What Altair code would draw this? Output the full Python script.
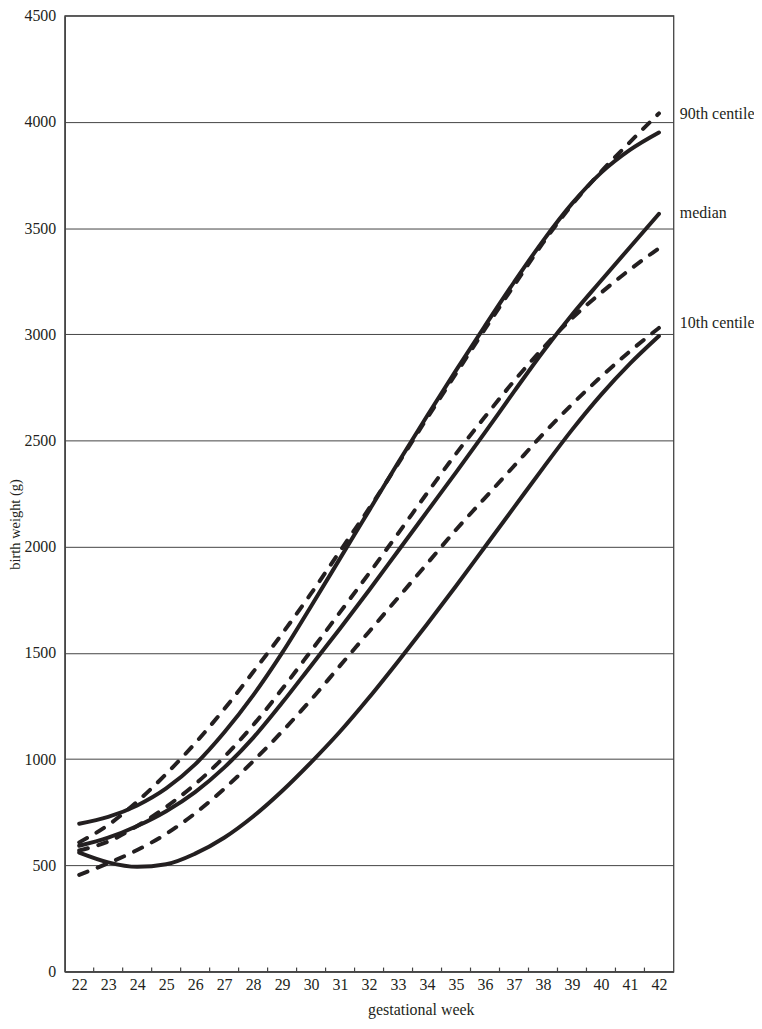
import altair as alt
import pandas as pd

# ---- data ----
weeks = list(range(22, 43))
solid_90 = [696, 728, 782, 862, 975, 1125, 1300, 1500, 1720, 1945, 2170, 2395, 2615, 2830, 3040, 3245, 3440, 3615, 3760, 3868, 3950]
solid_50 = [592, 630, 685, 755, 845, 960, 1100, 1265, 1440, 1615, 1795, 1980, 2165, 2350, 2538, 2730, 2918, 3092, 3252, 3410, 3567]
solid_10 = [560, 514, 493, 505, 555, 630, 730, 850, 985, 1130, 1290, 1460, 1635, 1815, 2000, 2185, 2370, 2550, 2715, 2862, 2992]
dashed_90 = [608, 690, 800, 930, 1075, 1235, 1410, 1590, 1780, 1980, 2180, 2390, 2605, 2815, 3025, 3230, 3430, 3610, 3765, 3905, 4040]
dashed_50 = [570, 612, 685, 775, 882, 1010, 1160, 1330, 1510, 1692, 1875, 2062, 2252, 2438, 2612, 2780, 2935, 3075, 3195, 3305, 3405]
dashed_10 = [455, 510, 572, 648, 745, 860, 990, 1130, 1280, 1440, 1600, 1760, 1920, 2080, 2230, 2380, 2530, 2670, 2800, 2920, 3030]

label_names = ["90th centile", "median", "10th centile"]
label_values = [4035, 3570, 3055]
label_week = 42

y_ticks = list(range(0, 4501, 500))
tick_bounds = [w + 0.5 for w in weeks[:-1]]

INK = "#231f20"
FONT = "Liberation Serif"
W, H = 612, 961

rows = []
for name, vals, style in [("s90", solid_90, "solid"), ("s50", solid_50, "solid"), ("s10", solid_10, "solid"),
                          ("d90", dashed_90, "dashed"), ("d50", dashed_50, "dashed"), ("d10", dashed_10, "dashed")]:
    for w, v in zip(weeks, vals):
        rows.append({"week": w, "weight": v, "series": name, "style": style})
df = pd.DataFrame(rows)

xscale = alt.Scale(domain=[21.5, 42.5], nice=False, zero=False)
yscale = alt.Scale(domain=[0, 4500], nice=False)

x_axis = alt.Axis(values=weeks, format="d", ticks=False, tickSize=0, grid=False,
                  labelFlush=False, labelOverlap=False,
                  labelFont=FONT, labelFontSize=16, labelColor=INK, labelPadding=5,
                  domainColor="#444", domainWidth=1.5,
                  title="gestational week", titleFont=FONT, titleFontSize=16,
                  titleFontWeight="normal", titleColor=INK,
                  titleX=358, titleY=43, titleAlign="center", titleBaseline="alphabetic")
y_axis = alt.Axis(values=y_ticks, format="d", ticks=False, tickSize=0, grid=True,
                  gridColor="#444", gridWidth=1,
                  labelFlush=False, labelOverlap=False,
                  labelFont=FONT, labelFontSize=16, labelColor=INK, labelPadding=9,
                  domainColor="#444", domainWidth=1.5,
                  title="birth weight (g)", titleFont=FONT, titleFontSize=14.5,
                  titleFontWeight="normal", titleColor=INK,
                  titleX=-49, titleY=511, titleAngle=270, titleAlign="center",
                  titleBaseline="middle")


def X(field):
    return alt.X(field, type="quantitative", scale=xscale, axis=x_axis)


def Y(field):
    return alt.Y(field, type="quantitative", scale=yscale, axis=y_axis)


solid = alt.Chart(df).transform_filter(alt.datum.style == "solid").mark_line(
    color=INK, strokeWidth=4, interpolate="monotone", strokeCap="round"
).encode(x=X("week"), y=Y("weight"), detail="series:N")

dashed = alt.Chart(df).transform_filter(alt.datum.style == "dashed").mark_line(
    color=INK, strokeWidth=4, interpolate="monotone", strokeCap="round", strokeDash=[9, 11]
).encode(x=X("week"), y=Y("weight"), detail="series:N")

ticks_df = pd.DataFrame({"week": tick_bounds})
xticks = alt.Chart(ticks_df).mark_rule(color="#444", strokeWidth=1.2).encode(
    x=X("week"), y=alt.value(H), y2=alt.value(H - 4))

lab_df = pd.DataFrame({"name": label_names, "weight": label_values, "week": [label_week] * 3})
labels = alt.Chart(lab_df).mark_text(
    align="left", baseline="middle", dx=21, font=FONT, fontSize=16, color=INK
).encode(x=X("week"), y=Y("weight"), text="name:N")

chart = alt.layer(solid, dashed, xticks, labels).properties(
    width=W, height=H,
    autosize=alt.AutoSizeParams(type="none"),
    padding={"left": 57, "top": 5, "right": 81, "bottom": 45},
).configure_view(stroke="#333", strokeWidth=1.2, clip=False)

chart.save("out.html", embed_options={"renderer": "svg", "actions": False})
